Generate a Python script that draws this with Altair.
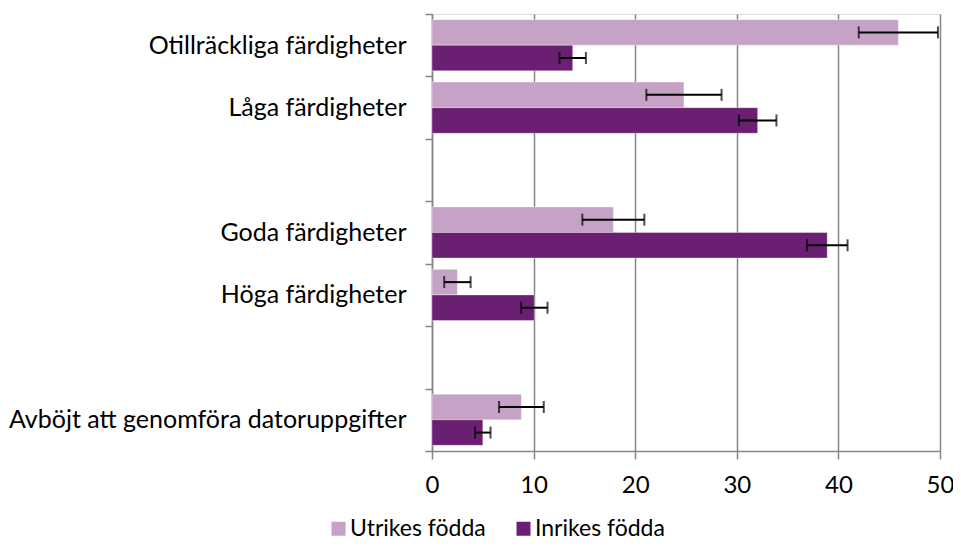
import altair as alt
import pandas as pd

# ---- data ----
categories = [
    "Otillräckliga färdigheter",
    "Låga färdigheter",
    " ",
    "Goda färdigheter",
    "Höga färdigheter",
    "  ",
    "Avböjt att genomföra datoruppgifter",
]
bar_categories = [
    "Otillräckliga färdigheter",
    "Låga färdigheter",
    "Goda färdigheter",
    "Höga färdigheter",
    "Avböjt att genomföra datoruppgifter",
]
series = ["Utrikes födda", "Inrikes födda"]
colors = ["#C6A3C6", "#6B1F72"]

utrikes = [45.9, 24.8, 17.85, 2.5, 8.8]
utrikes_err = [3.9, 3.7, 3.05, 1.3, 2.2]
inrikes = [13.85, 32.05, 38.9, 10.07, 5.0]
inrikes_err = [1.3, 1.85, 2.0, 1.3, 0.76]

x_ticks = [0, 10, 20, 30, 40, 50]

rows = []
for name, vals, errs in [(series[0], utrikes, utrikes_err), (series[1], inrikes, inrikes_err)]:
    for c, v, e in zip(bar_categories, vals, errs):
        rows.append({"cat": c, "series": name, "value": v, "lo": v - e, "hi": v + e})
df = pd.DataFrame(rows)

FONT = "Lato"
GRAY = "#868686"

y_enc = alt.Y(
    "cat:N",
    scale=alt.Scale(domain=categories, paddingInner=0, paddingOuter=0),
    axis=alt.Axis(
        title=None,
        tickBand="extent",
        tickSize=7,
        tickColor=GRAY,
        tickWidth=1.5,
        domainColor=GRAY,
        domainWidth=1.5,
        labelFont=FONT,
        labelFontSize=25,
        labelColor="#000000",
        labelPadding=19,
        labelLimit=500,
        grid=False,
    ),
)
yoff = alt.YOffset(
    "series:N",
    scale=alt.Scale(domain=series, paddingInner=0, paddingOuter=0.22),
)
x_scale = alt.Scale(domain=[0, 50], nice=False, zero=True)

bars = alt.Chart(df).mark_bar(stroke="#ffffff", strokeOpacity=0.35, strokeWidth=1).encode(
    x=alt.X(
        "value:Q",
        scale=x_scale,
        axis=alt.Axis(
            title=None,
            values=x_ticks,
            grid=True,
            gridColor=GRAY,
            gridWidth=1.5,
            tickSize=8,
            tickColor=GRAY,
            tickWidth=1.5,
            domainColor=GRAY,
            domainWidth=1.5,
            labelFont=FONT,
            labelFontSize=24,
            labelColor="#000000",
            labelPadding=14,
            labelFlush=False,
        ),
    ),
    y=y_enc,
    yOffset=yoff,
    color=alt.Color(
        "series:N",
        scale=alt.Scale(domain=series, range=colors),
        legend=alt.Legend(
            title=None,
            orient="none",
            direction="horizontal",
            legendX=-105,
            legendY=503,
            symbolType="square",
            symbolSize=196,
            symbolStrokeWidth=0,
            symbolOpacity=1,
            labelFont=FONT,
            labelFontSize=23,
            labelColor="#000000",
            labelOffset=0,
            columnPadding=26,
            padding=0,
        ),
    ),
)

err_line = alt.Chart(df).mark_rule(color="#000000", strokeWidth=2).encode(
    x=alt.X("lo:Q", scale=x_scale),
    x2="hi:Q",
    y=y_enc,
    yOffset=yoff,
)
cap_lo = alt.Chart(df).mark_tick(color="#000000", thickness=2, size=12).encode(
    x=alt.X("lo:Q", scale=x_scale),
    y=y_enc,
    yOffset=yoff,
)
cap_hi = alt.Chart(df).mark_tick(color="#000000", thickness=2, size=12).encode(
    x=alt.X("hi:Q", scale=x_scale),
    y=y_enc,
    yOffset=yoff,
)

chart = (
    alt.layer(bars, err_line, cap_lo, cap_hi)
    .properties(
        width=508,
        height=437,
        autosize=alt.AutoSizeParams(type="none"),
        padding={"left": 424, "top": 6, "right": 13, "bottom": 90},
    )
    .configure_view(stroke=None)
    .configure(background="#ffffff")
)

chart.save("out.html", embed_options={"renderer": "svg", "actions": False})
